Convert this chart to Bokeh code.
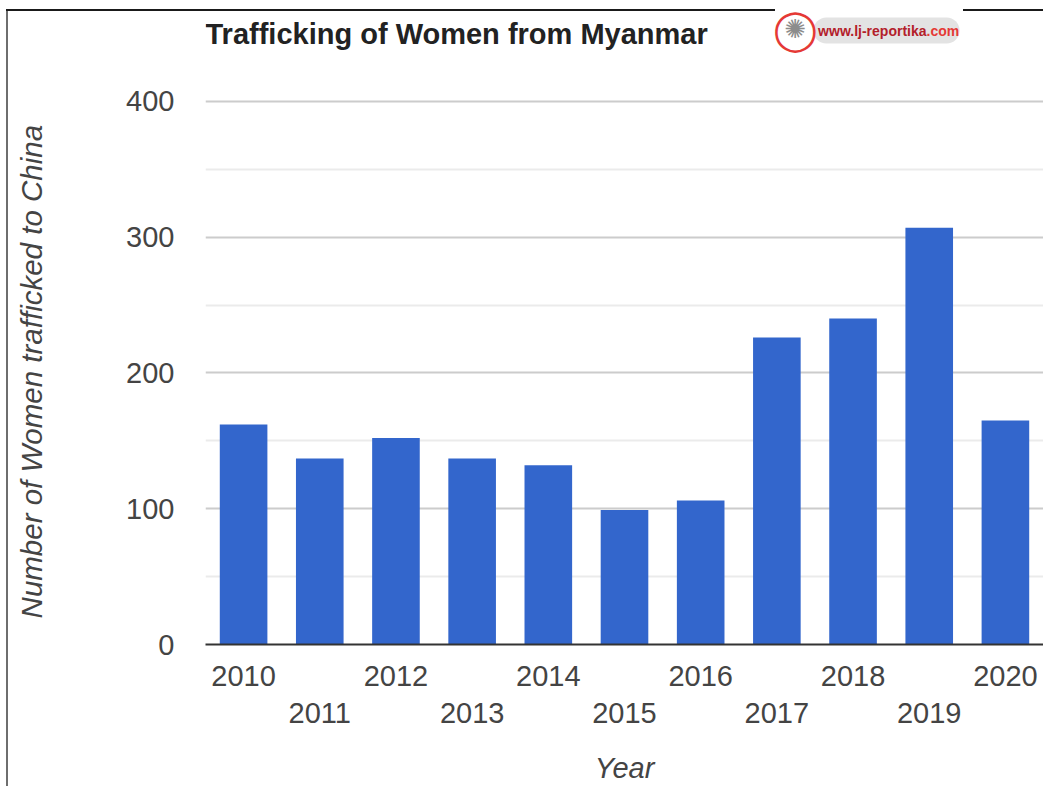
from bokeh.plotting import figure
from bokeh.models import Range1d, FixedTicker, LinearAxis, Label, PrintfTickFormatter
from bokeh.embed import file_html
from bokeh.resources import INLINE

# ---- data ----
years = [2010, 2011, 2012, 2013, 2014, 2015, 2016, 2017, 2018, 2019, 2020]
women = [162, 137, 152, 137, 132, 99, 106, 226, 240, 307, 165]
even_years = years[0::2]
odd_years = years[1::2]
y_ticks = [0, 100, 200, 300, 400]
y_minor = [50, 150, 250, 350]
title_text = "Trafficking of Women from Myanmar"
x_title = "Year"
y_title = "Number of Women trafficked to China"
logo_main = "www.lj-reportika"
logo_tld = ".com"

FONT = "Liberation Sans"
TICK_COLOR = "#444444"

# ---- layout (pixels) ----
W, H = 1043, 786
FRAME_LEFT = 205          # left edge of plotting area
FRAME_BOTTOM = 645        # y=0 line
TOP_TICK_PX = 101         # where the top tick (400) sits
frame_h = FRAME_BOTTOM    # frame runs from the canvas top to the axis
y_top = y_ticks[-1] * frame_h / (FRAME_BOTTOM - TOP_TICK_PX)
x0, x1 = years[0] - 0.5, years[-1] + 0.5
px_per_x = (W - FRAME_LEFT) / (x1 - x0)


def dx(px):
    return x0 + (px - FRAME_LEFT) / px_per_x


def dy(py):
    return (FRAME_BOTTOM - py) * y_top / frame_h


p = figure(
    width=W, height=H,
    output_backend="svg", toolbar_location=None,
    x_range=Range1d(x0, x1),
    y_range=Range1d(0, y_top),
    min_border_left=FRAME_LEFT, min_border_right=0,
    min_border_top=0, min_border_bottom=H - FRAME_BOTTOM,
)
p.styles = {
    "background": (
        "linear-gradient(#1a1a1a, #1a1a1a) 6px 9px / 769px 2px no-repeat, "
        "linear-gradient(#1a1a1a, #1a1a1a) 963px 9px / 80px 2px no-repeat, "
        "linear-gradient(#6e6e6e, #6e6e6e) 6px 9px / 2px 777px no-repeat, "
        "#ffffff"
    ),
}
p.border_fill_color = None
p.background_fill_color = None
p.outline_line_color = None

# bars
p.vbar(x=years, top=women, width=0.625, fill_color="#3366CC", line_color=None)

# grid
p.xgrid.visible = False
p.ygrid.ticker = FixedTicker(ticks=y_ticks, minor_ticks=y_minor)
p.ygrid.grid_line_color = "#cccccc"
p.ygrid.grid_line_width = 2
p.ygrid.minor_grid_line_color = "#ebebeb"
p.ygrid.minor_grid_line_width = 2

# y axis
ya = p.yaxis[0]
ya.ticker = FixedTicker(ticks=y_ticks)
ya.axis_line_color = None
ya.major_tick_line_color = None
ya.minor_tick_line_color = None
ya.major_label_text_font = FONT
ya.major_label_text_font_size = "29px"
ya.major_label_text_color = TICK_COLOR
ya.major_label_standoff = 25
# padded with no-break spaces so the label centres on the 0-400 span
ya.axis_label = y_title + "\u00a0" * 12
ya.axis_label_text_font = FONT
ya.axis_label_text_font_size = "29.5px"
ya.axis_label_text_font_style = "italic"
ya.axis_label_text_color = TICK_COLOR
ya.axis_label_standoff = 75

# x axis (even years, first row)
xa = p.xaxis[0]
xa.ticker = FixedTicker(ticks=even_years)
xa.formatter = PrintfTickFormatter(format="%d")
xa.axis_line_color = "#333333"
xa.axis_line_width = 2
xa.major_tick_line_color = None
xa.minor_tick_line_color = None
xa.major_label_text_font = FONT
xa.major_label_text_font_size = "29px"
xa.major_label_text_color = TICK_COLOR
xa.major_label_standoff = 15

# second x axis (odd years, second row)
xa2 = LinearAxis(
    ticker=FixedTicker(ticks=odd_years),
    formatter=PrintfTickFormatter(format="%d"),
    axis_line_color=None,
    major_tick_line_color=None,
    minor_tick_line_color=None,
    major_label_text_font=FONT,
    major_label_text_font_size="29px",
    major_label_text_color=TICK_COLOR,
    major_label_standoff=8,
    axis_label=x_title,
    axis_label_text_font=FONT,
    axis_label_text_font_size="29px",
    axis_label_text_font_style="italic",
    axis_label_text_color=TICK_COLOR,
    axis_label_standoff=26,
)
p.add_layout(xa2, "below")

# title
p.add_layout(Label(x=dx(205), y=dy(34), text=title_text,
                   text_align="left", text_baseline="alphabetic",
                   text_font=FONT, text_font_size="29px", text_font_style="bold",
                   text_color="#222222"))

# watermark logo
p.add_layout(Label(x=dx(886), y=dy(30), text="\u00a0" * 35,
                   text_align="center", text_baseline="middle",
                   text_font=FONT, text_font_size="14px", text_font_style="bold",
                   background_fill_color="#e3e3e3", border_radius=13, padding=5))
p.add_layout(Label(x=dx(926), y=dy(31), text=logo_main,
                   text_align="right", text_baseline="alphabetic",
                   text_font=FONT, text_font_size="14px", text_font_style="bold",
                   text_color="#b3202a"))
p.add_layout(Label(x=dx(926), y=dy(31), text=logo_tld,
                   text_align="left", text_baseline="alphabetic",
                   text_font=FONT, text_font_size="14px", text_font_style="bold",
                   text_color="#e53935"))
p.add_layout(Label(x=dx(795), y=dy(29), text="\u25ef",
                   text_align="center", text_baseline="middle",
                   text_font="DejaVu Sans", text_font_size="40px",
                   text_color="#e53935"))
p.add_layout(Label(x=dx(795), y=dy(29), text="\u273a",
                   text_align="center", text_baseline="middle",
                   text_font="DejaVu Sans", text_font_size="26px",
                   text_color="#8c8c8c"))

open("out.html", "w").write(file_html(p, INLINE))
